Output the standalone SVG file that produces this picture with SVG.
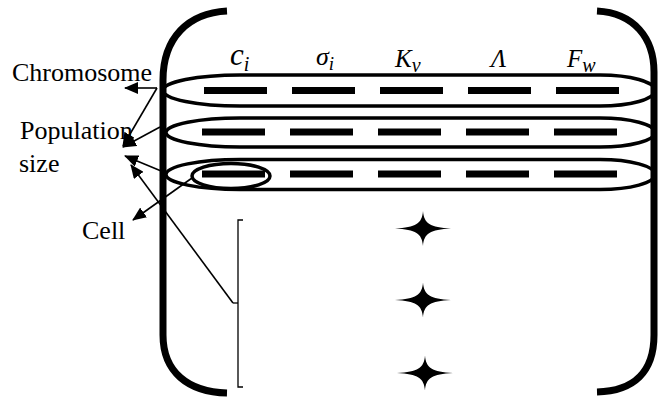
<svg xmlns="http://www.w3.org/2000/svg" width="658" height="403" viewBox="0 0 658 403">
<defs>
<style>
.brk{fill:none;stroke:#000;stroke-width:7;stroke-linecap:butt}
.loop{fill:none;stroke:#000;stroke-width:3.5}
.dash{fill:#000}
.conn{stroke:#000;stroke-width:1.6;fill:none}
.thin{stroke:#000;stroke-width:1.3;fill:none}
.star{fill:#000}
</style>
<marker id="ah" viewBox="0 0 14 12" refX="13" refY="6" markerWidth="14" markerHeight="12" markerUnits="userSpaceOnUse" orient="auto">
<path d="M0,0 L14,6 L0,12 Z" fill="#000"/>
</marker>
<symbol id="dashes" overflow="visible">
<rect class="dash" x="0" y="0" width="63" height="7"/>
<rect class="dash" x="88" y="0" width="63" height="7"/>
<rect class="dash" x="176" y="0" width="63" height="7"/>
<rect class="dash" x="264" y="0" width="63" height="7"/>
<rect class="dash" x="352" y="0" width="63" height="7"/>
</symbol>
<path id="star" class="star" d="M-28,0 C-7,-1 -1,-5 0,-17.5 C1,-5 7,-1 28,0 C7,1 1,5 0,17.5 C-1,5 -7,1 -28,0 Z"/>
</defs>
<rect width="658" height="403" fill="#fff"/>

<g id="matrix-brackets">
<path class="brk" d="M227,11 C188,13 163,38 163,80 L163,335 C163,372 188,392 227,393"/>
<path class="brk" d="M597,11 C634,13 654,38 654,72 L654,335 C654,372 634,391 597,392"/>
</g>

<g id="headers" font-family="'Liberation Serif', 'DejaVu Serif', serif" font-style="italic" font-size="25" fill="#000">
<text x="230" y="65" font-size="31">c<tspan dy="6" font-size="20">i</tspan></text>
<text x="316" y="65" font-size="26">σ<tspan dy="5" font-size="19">i</tspan></text>
<text x="395" y="67">K<tspan dy="5" font-size="20">v</tspan></text>
<text x="491" y="67">Λ</text>
<text x="567" y="67">F<tspan dy="5" font-size="20">w</tspan></text>
</g>

<g id="chromosome1">
<path class="loop" d="M240,75 L600,75 A55,15.5 0 0 1 600,106 L240,106 A77,15.5 0 0 1 240,75 Z"/>
<use href="#dashes" x="204" y="87"/>
</g>
<g id="chromosome2">
<path class="loop" d="M240,118 L600,118 A55,14.5 0 0 1 600,147 L240,147 A74,14.5 0 0 1 240,118 Z"/>
<use href="#dashes" x="202" y="128.5"/>
</g>
<g id="chromosome3">
<path class="loop" d="M240,159.5 L600,159.5 A55,15 0 0 1 600,189.5 L240,189.5 A74,15 0 0 1 240,159.5 Z"/>
<use href="#dashes" x="202" y="170.5"/>
</g>

<g id="cell">
<ellipse class="loop" cx="231" cy="176" rx="39" ry="12.5"/>
</g>

<g id="more-rows">
<path class="thin" d="M243,220 L238,220 L238,387 L243,387"/>
<path class="thin" d="M238,303 L233,303"/>
<use href="#star" x="423" y="228.5"/>
<use href="#star" x="423" y="300"/>
<use href="#star" x="425" y="373"/>
</g>

<g id="labels" font-family="'Liberation Serif', 'Times New Roman', 'DejaVu Serif', serif" font-size="26" fill="#000">
<text x="12" y="81">Chromosome</text>
<text x="20" y="139">Population</text>
<text x="19" y="172">size</text>
<text x="82" y="239">Cell</text>
</g>

<g id="connectors">
<line class="conn" x1="157" y1="88" x2="125" y2="88" marker-end="url(#ah)"/>
<line class="conn" x1="157" y1="88" x2="123" y2="146" marker-end="url(#ah)"/>
<line class="conn" x1="160" y1="127" x2="123" y2="147" marker-end="url(#ah)"/>
<line class="conn" x1="166" y1="173" x2="125" y2="156" marker-end="url(#ah)"/>
<line class="conn" x1="233" y1="303" x2="131" y2="165" marker-end="url(#ah)"/>
<line class="conn" x1="192" y1="178" x2="133" y2="220" marker-end="url(#ah)"/>
</g>
</svg>
